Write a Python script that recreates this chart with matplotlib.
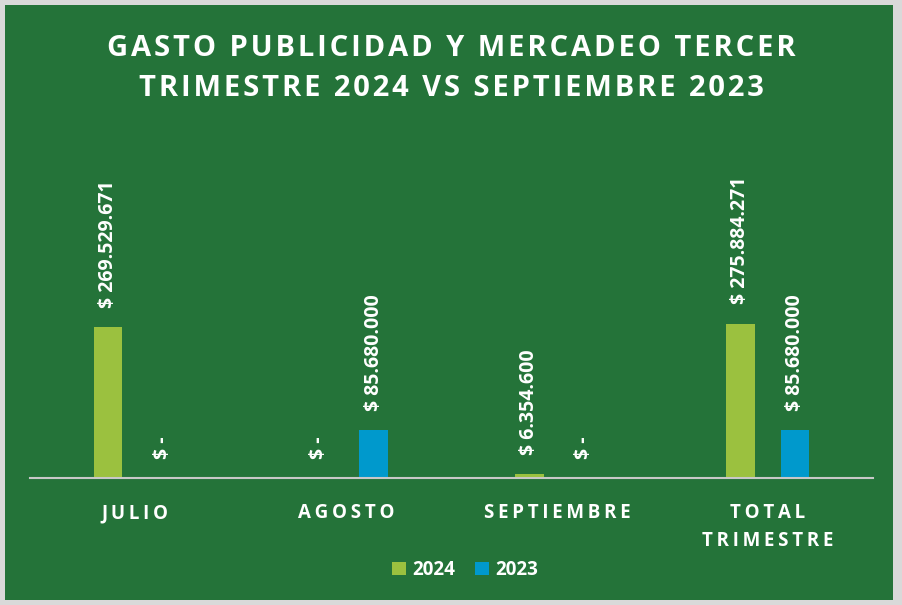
import numpy as np
import matplotlib.pyplot as plt
from matplotlib.patches import Rectangle

categories = ['JULIO', 'AGOSTO', 'SEPTIEMBRE', 'TOTAL\nTRIMESTRE']
values_2024 = [269529671, 0, 6354600, 275884271]
values_2023 = [0, 85680000, 0, 85680000]
series_labels = ['2024', '2023']

green_bg = '#247339'
color_2024 = '#9BC13F'
color_2023 = '#0099CC'
font = ['Open Sans', 'DejaVu Sans']


def fmt(v):
    if v == 0:
        return '$ -'
    return '$ ' + f'{v:,.0f}'.replace(',', '.')


def spaced(s, sep='\u200a'):
    return '\n'.join(sep.join(line) for line in s.split('\n'))


fig = plt.figure(figsize=(9.02, 6.05), dpi=100)
fig.patch.set_facecolor('#D9D9D9')
W, H = 902, 605
fig.patches.append(Rectangle((5 / W, 5 / H), 888 / W, 595 / H, transform=fig.transFigure,
                             facecolor=green_bg, edgecolor='none', zorder=-10))

# axes: baseline at y=478px, x from 30 to 873
ax = fig.add_axes([30 / W, (H - 478) / H, 843 / W, 280 / H])
ax.set_zorder(1)
ax.set_facecolor('none')
x = np.arange(len(categories))
bw = 0.137
off = 0.13
b1 = ax.bar(x - off, values_2024, bw, color=color_2024, label=series_labels[0], zorder=2)
b2 = ax.bar(x + off, values_2023, bw, color=color_2023, label=series_labels[1], zorder=2)
ax.set_xlim(-0.5, len(categories) - 0.5)
ax.set_ylim(0, 500e6)

for bars, vals in [(b1, values_2024), (b2, values_2023)]:
    for rect, v in zip(bars, vals):
        ax.annotate(fmt(v), (rect.get_x() + rect.get_width() / 2, v),
                    xytext=(0, 14), textcoords='offset points', rotation=90,
                    ha='center', va='bottom', color='white', fontsize=14,
                    fontweight='bold', family=font)

for s in ['top', 'right', 'left']:
    ax.spines[s].set_visible(False)
ax.spines['bottom'].set_color('#C8C8C8')
ax.spines['bottom'].set_linewidth(1.5)
ax.set_yticks([])
ax.set_xticks(x)
ax.set_xticklabels([spaced(c, '\u2009') for c in categories], color='white', fontsize=13.5,
                   fontweight='bold', family=font, linespacing=1.55)
ax.tick_params(axis='x', length=0, pad=18)

title_lines = ['GASTO PUBLICIDAD Y MERCADEO TERCER', 'TRIMESTRE 2024 VS SEPTIEMBRE 2023']
fig.text(0.5, (H - 48) / H, spaced(title_lines[0]), ha='center', va='center',
         color='white', fontsize=21, fontweight='bold', family=font)
fig.text(0.5, (H - 89) / H, spaced(title_lines[1]), ha='center', va='center',
         color='white', fontsize=21, fontweight='bold', family=font)

leg = fig.legend(loc='center', bbox_to_anchor=(465 / W, (H - 570) / H), ncol=2,
                 frameon=False, handlelength=0.75, handleheight=0.75, handletextpad=0.3,
                 columnspacing=1.1, prop={'family': font, 'weight': 'bold', 'size': 13.5})
for t in leg.get_texts():
    t.set_color('white')

fig.savefig('out.png', dpi=100, facecolor=fig.get_facecolor())
